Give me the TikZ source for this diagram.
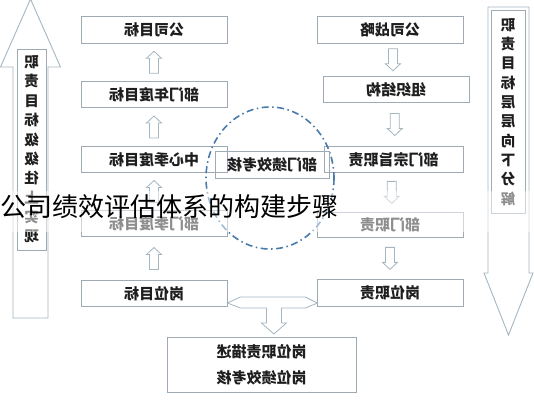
\documentclass[tikz,border=0pt]{standalone}
\usepackage{fontspec}
\setmainfont{Noto Sans CJK SC}
\usepackage{graphicx}
\usetikzlibrary{calc}

\definecolor{boxgray}{RGB}{158,170,180}
\definecolor{arrgray}{RGB}{165,182,192}
\definecolor{ringblue}{RGB}{72,122,170}
\definecolor{txtdark}{RGB}{30,30,30}

% mirrored text, as printed in the picture
\newcommand{\mir}[1]{\reflectbox{#1}}
% hollow block arrows between two boxes
\newcommand{\uparr}[2]{%
  \path ($(#1.north)!0.5!(#2.south)$) coordinate (m);
  \draw[blk] (m) ++(-4.5,11) -- ++(0,-15) -- ++(-3,0) -- ++(7.5,-7)
    -- ++(7.5,7) -- ++(-3,0) -- ++(0,15) -- cycle;}
\newcommand{\dnarr}[2]{%
  \path ($(#1.south)!0.5!(#2.north)$) coordinate (m);
  \draw[blk] (m) ++(-4.5,-11) -- ++(0,15) -- ++(-3,0) -- ++(7.5,7)
    -- ++(7.5,-7) -- ++(-3,0) -- ++(0,-15) -- cycle;}

\begin{document}
\begin{tikzpicture}[x=1pt, y=-1pt,
  font=\fontsize{15}{18}\selectfont\bfseries,
  box/.style={draw=boxgray, line width=0.8pt, minimum width=146pt, minimum height=26.5pt, inner sep=0pt, text=txtdark},
  blk/.style={draw=arrgray, line width=0.8pt, fill=white},
  bigarr/.style={draw=arrgray, line width=0.9pt, fill=white},
  colbox/.style={draw=boxgray, line width=0.8pt, fill=white},
  ring/.style={draw=ringblue, line width=1.6pt, dash pattern=on 7pt off 3.5pt on 1.5pt off 3.5pt}
]
\useasboundingbox (0,0) rectangle (534,400);

% big side arrows
\draw[bigarr] (13,318) -- (13,67) -- (0.5,67) -- (30.5,-1) -- (60.5,67) -- (48,67) -- (48,318) -- cycle;
\draw[bigarr] (488,7) -- (529,7) -- (529,273) -- (533,273) -- (508.5,335) -- (484,273) -- (488,273) -- cycle;
\node[colbox, minimum width=29pt, minimum height=201pt] (lcol) at (31.5,149.5) {};
\node[colbox, minimum width=34pt, minimum height=203pt] (rcol) at (508,111.5) {};
\foreach \c [count=\i from 0] in {职,责,目,标,级,级,往,上,实,现}
  \node[text=txtdark, font=\fontsize{14.5}{16}\selectfont\bfseries] (lc\i) at (31.5,{62+19.4*\i}) {\mir{\c}};
\foreach \c [count=\i from 0] in {职,责,目,标,层,层,向,下,分,解}
  \node[text=txtdark, font=\fontsize{14.5}{16}\selectfont\bfseries] (rc\i) at (508,{25+19.3*\i}) {\mir{\c}};

% left column: goals
\node[box] (lt1) at (154,30) {\mir{公司目标}};
\node[box] (lt2) at (154,94.5) {\mir{部门年度目标}};
\node[box] (lt3) at (154,159.5) {\mir{中心季度目标}};
\node[box] (lt4) at (154,223.5) {\mir{部门季度目标}};
\node[box] (lt5) at (154,293.5) {\mir{岗位目标}};
\uparr{lt2}{lt1}
\uparr{lt3}{lt2}
\uparr{lt4}{lt3}
\uparr{lt5}{lt4}

% right column: duties
\node[box] (rt1) at (390,30) {\mir{公司战略}};
\node[box] (rt2) at (396,89.5) {\mir{组织结构}};
\node[box, minimum width=139pt] (rt3) at (393.5,159.5) {\mir{部门宗旨职责}};
\node[box, minimum height=25pt] (rt4) at (390,224.5) {\mir{部门职责}};
\node[box] (rt5) at (390,293) {\mir{岗位职责}};
\dnarr{rt1}{rt2}
\dnarr{rt2}{rt3}
\dnarr{rt3}{rt4}
\dnarr{rt4}{rt5}

% middle
\draw[ring] (270,178) ellipse [x radius=64, y radius=71];
\node[box, minimum width=114pt] (ctr) at (272,165) {\mir{部门绩效考核}};
\node[box, minimum width=189pt, minimum height=55pt, align=center, font=\fontsize{15}{26}\selectfont\bfseries] (bot) at (261.5,364.5) {\mir{岗位职责描述}\\\mir{岗位绩效考核}};
\draw[blk] ([yshift=-9.5pt]lt5.east) -- ++(13,-6) -- ++(65,0) -- ++(12,6) -- ++(-12,5) -- ++(-24,0)
  -- ++(0,15) -- ++(5,0) -- ++(-12.5,11) -- ++(-12.5,-11) -- ++(5,0) -- ++(0,-15) -- ++(-26,0) -- cycle;

% title over the picture
\fill[white, opacity=0.5] (0,191) rectangle (534,232);
\node[font=\fontsize{26}{30}\selectfont, text=black, inner sep=0pt] (title) at (169.5,207) {公司绩效评估体系的构建步骤};
\end{tikzpicture}
\end{document}
